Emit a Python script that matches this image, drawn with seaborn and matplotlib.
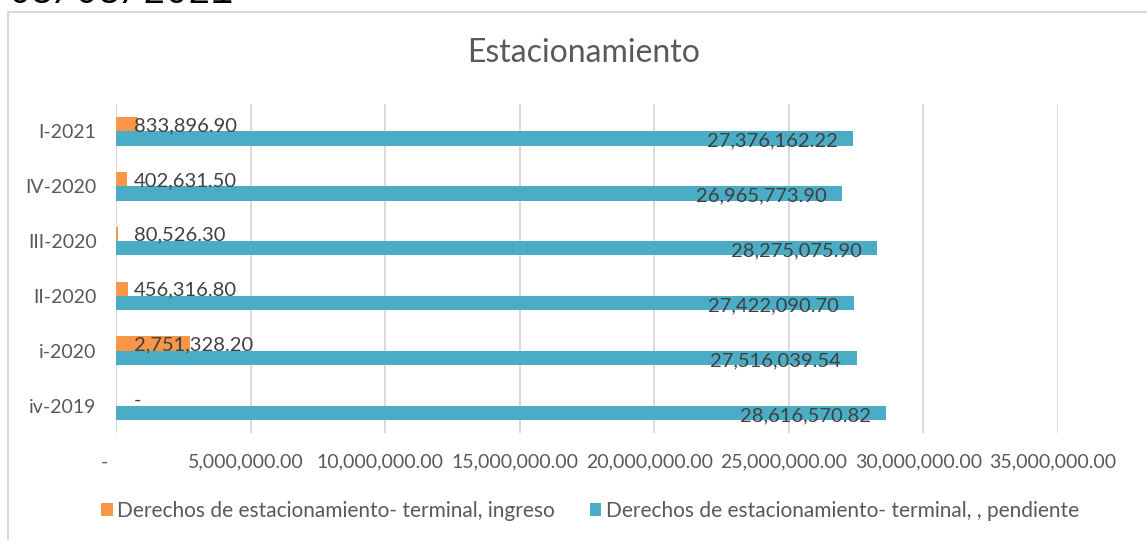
import matplotlib
matplotlib.use("Agg")
import matplotlib.pyplot as plt
import matplotlib.transforms as mtransforms
from matplotlib.patches import Patch, Rectangle
import seaborn as sns
import pandas as pd

# data
periodos = ['I-2021', 'IV-2020', 'III-2020', 'II-2020', 'i-2020', 'iv-2019']
ingreso = [833896.90, 402631.50, 80526.30, 456316.80, 2751328.20, 0.0]
pendiente = [27376162.22, 26965773.90, 28275075.90, 27422090.70, 27516039.54, 28616570.82]
serie_ingreso = 'Derechos de estacionamiento- terminal, ingreso'
serie_pendiente = 'Derechos de estacionamiento- terminal, , pendiente'
x_ticks = [0, 5000000, 10000000, 15000000, 20000000, 25000000, 30000000, 35000000]

c_orange = '#F79646'
c_blue = '#4BACC6'
c_grid = '#D9D9D9'
c_text = '#595959'

df = pd.DataFrame({
    'periodo': periodos * 2,
    'valor': ingreso + pendiente,
    'serie': [serie_ingreso] * len(periodos) + [serie_pendiente] * len(periodos),
})

sns.set_style('white')
plt.rcParams['font.family'] = ['Lato', 'DejaVu Sans']

W, H = 1147, 540
fig = plt.figure(figsize=(W / 100, H / 100), dpi=100)
ax = fig.add_axes([116 / W, 1 - 433 / H, (1058 - 116) / W, (433 - 104) / H])

sns.barplot(data=df, y='periodo', x='valor', hue='serie', order=periodos,
            hue_order=[serie_ingreso, serie_pendiente],
            palette=[c_orange, c_blue], orient='h', width=0.52,
            saturation=1, legend=False, linewidth=0, ax=ax)

ax.set_xlim(0, 35000000)
ax.set_xticks(x_ticks)
ax.set_xticklabels(['-' if v == 0 else f'{v:,.2f}' for v in x_ticks])
ax.set_xlabel('')
ax.set_ylabel('')
ax.set_axisbelow(True)
ax.grid(axis='x', color=c_grid, lw=1.4)
ax.grid(axis='y', visible=False)
for s in ax.spines.values():
    s.set_visible(False)
ax.tick_params(axis='x', length=0, pad=15, labelsize=14, labelcolor=c_text)
ax.tick_params(axis='y', length=0, pad=14, labelsize=14, labelcolor=c_text)

# excel-style shift of x tick labels
for lab in ax.get_xticklabels():
    dx = -12 if lab.get_text() == '-' else -5
    lab.set_transform(lab.get_transform() + mtransforms.ScaledTranslation(dx / 100, 0, fig.dpi_scale_trans))

# data labels
for i, (a, b) in enumerate(zip(ingreso, pendiente)):
    txt = '-' if a == 0 else f'{a:,.2f}'
    ax.annotate(txt, (0, i - 0.13), xytext=(13, -1), textcoords='offset points',
                ha='left', va='center', fontsize=14.5, color='#404040')
    ax.annotate(f'{b:,.2f}', (b, i + 0.13), xytext=(-11, -2), textcoords='offset points',
                ha='right', va='center', fontsize=14.5, color='#404040')

fig.text(584 / W, 1 - 53 / H, 'Estacionamiento', ha='center', va='center',
         fontsize=23, color=c_text)

handles = [Patch(facecolor=c_orange, edgecolor='none', label=serie_ingreso),
           Patch(facecolor=c_blue, edgecolor='none', label=serie_pendiente)]
fig.legend(handles=handles, loc='center', bbox_to_anchor=(590 / W, 1 - 511 / H),
           ncol=2, frameon=False, fontsize=15, labelcolor=c_text,
           handlelength=0.55, handleheight=0.55, handletextpad=0.2, columnspacing=1.7)

# chart frame (cut off at right/bottom) and the date text above it
fig.patches.append(Rectangle((8 / W, -0.1), 1.2, 1 - 12 / H + 0.1, transform=fig.transFigure,
                             fill=False, edgecolor=c_grid, lw=1.5))
fig.text(9 / W, 1 - 3 / H, '03/08/2021', ha='left', va='baseline', fontsize=27,
         family='Liberation Mono', color='black')

fig.savefig('out.png', dpi=100)
